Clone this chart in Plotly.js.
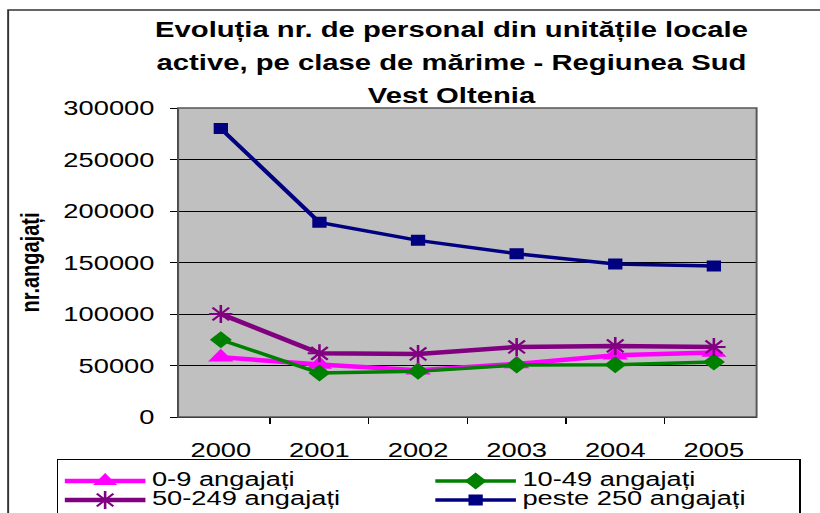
<!DOCTYPE html>
<html>
<head>
<meta charset="utf-8">
<script src="https://cdn.plot.ly/plotly-3.0.1.min.js"></script>
<style>
  html, body { margin: 0; padding: 0; background: #ffffff; overflow: hidden; }
  #wrap { width: 820px; height: 513px; overflow: hidden; }
  #chart { width: 631px; height: 513px; transform: scaleX(1.3); transform-origin: 0 0; }
</style>
</head>
<body>
<div id="wrap"><div id="chart"></div></div>
<script>
// ---- data ----
const years = ['2000', '2001', '2002', '2003', '2004', '2005'];
const seriesNames = ['0-9 angajați', '10-49 angajați', '50-249 angajați', 'peste 250 angajați'];
const emp0_9    = [58000, 51000, 45500, 51500, 60000, 62700];
const emp10_49  = [75000, 42700, 44300, 50500, 50700, 53400];
const emp50_249 = [100000, 61800, 61200, 68000, 69000, 68000];
const emp250    = [280000, 189000, 171500, 158500, 148500, 146500];
const titleLines = ['Evoluția nr. de personal din unitățile locale',
                    'active, pe clase de mărime - Regiunea Sud',
                    'Vest Oltenia'];
const yTitle = 'nr.angajați';

// ---- styling ----
const FONT = 'Liberation Sans, Arial, sans-serif';
const span = (t, s) => '<span style="font-size:' + s + 'px">' + t + '</span>';
const legSpan = t => '<span style="font-size:21px">' + t + '</span>';

const styles = [
  {color: '#FF00FF', symbol: 'triangle-up', size: 17, lw: 4.5},
  {color: '#008000', symbol: 'diamond', size: 13, lw: 3.5},
  {color: '#800080', symbol: 'asterisk-open', size: 15, lw: 4.5},
  {color: '#000080', symbol: 'square', size: 11, lw: 3.5}
];
const values = [emp0_9, emp10_49, emp50_249, emp250];

const traces = values.map((v, i) => ({
  type: 'scatter',
  mode: 'lines+markers',
  x: years,
  y: v,
  name: legSpan(seriesNames[i]),
  line: {color: styles[i].color, width: styles[i].lw},
  marker: {
    color: styles[i].color,
    symbol: styles[i].symbol,
    size: styles[i].size,
    line: {color: styles[i].color, width: styles[i].symbol === 'asterisk-open' ? 2 : 0}
  },
  hoverinfo: 'x+y+name'
}));

const layout = {
  width: 631,
  height: 513,
  margin: {l: 137, r: 49, t: 108, b: 96, pad: 0, autoexpand: false},
  paper_bgcolor: '#ffffff',
  plot_bgcolor: '#C0C0C0',
  font: {family: FONT, color: '#000000', size: 21},
  title: {
    text: titleLines.map(t => span(t, 22.5)).join('<br>'),
    font: {family: FONT, size: 25.4, weight: 'bold', color: '#000000'},
    xref: 'container', x: 0.5504, xanchor: 'center',
    yref: 'container', y: 0.928, yanchor: 'top'
  },
  xaxis: {
    type: 'category',
    tickson: 'boundaries',
    ticks: 'outside', ticklen: 6, tickcolor: '#000000', tickwidth: 1,
    showline: true, linecolor: '#000000', linewidth: 1,
    showgrid: false, zeroline: false,
    tickfont: {family: FONT, size: 21, color: '#000000'},
    ticklabelstandoff: 14
  },
  yaxis: {
    range: [0, 300000],
    dtick: 50000,
    tickformat: 'd',
    ticks: 'outside', ticklen: 5, tickcolor: '#000000', tickwidth: 1,
    showline: true, linecolor: '#000000', linewidth: 1,
    showgrid: true, gridcolor: '#000000', gridwidth: 1,
    zeroline: false,
    tickfont: {family: FONT, size: 21, color: '#000000'},
    ticklabelstandoff: 8,
    title: {text: yTitle, font: {family: FONT, size: 20, weight: 'bold', color: '#000000'}, standoff: 12}
  },
  showlegend: true,
  legend: {
    orientation: 'h',
    xref: 'paper', x: -0.2093, xanchor: 'left',
    yref: 'paper', y: -0.1359, yanchor: 'top',
    bgcolor: '#ffffff', bordercolor: '#000000', borderwidth: 1,
    font: {family: FONT, size: 12, color: '#000000'},
    title: {text: '&nbsp;', side: 'top', font: {size: 5}},
    entrywidth: 208, entrywidthmode: 'pixels',
    itemwidth: 62,
    traceorder: 'normal'
  },
  shapes: [
    {type: 'rect', xref: 'paper', yref: 'paper', x0: 0, x1: 1, y0: 0, y1: 1,
     line: {color: '#555555', width: 1.5}, fillcolor: 'rgba(0,0,0,0)', layer: 'above'},
    {type: 'rect', xref: 'paper', yref: 'paper', x0: -0.2938, x1: 2, y0: -1, y1: 1.3172,
     line: {color: '#333333', width: 1.5}, fillcolor: 'rgba(0,0,0,0)', layer: 'below'}
  ]
};

Plotly.newPlot('chart', traces, layout, {displayModeBar: false, staticPlot: true});
</script>
</body>
</html>
